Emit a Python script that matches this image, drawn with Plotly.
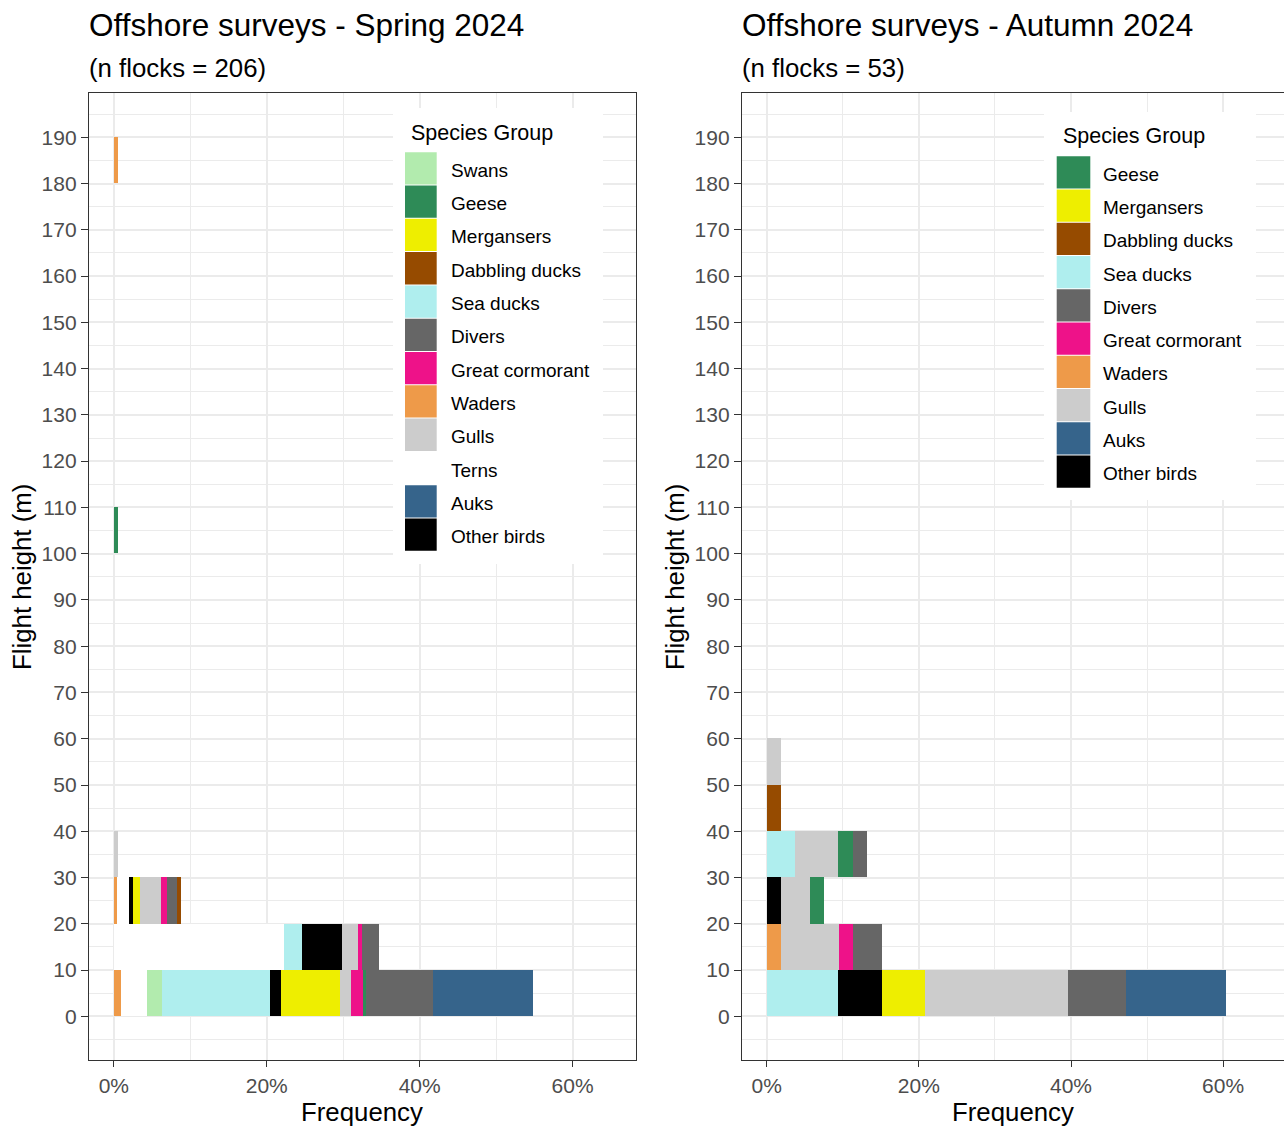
import plotly.graph_objects as go

# figure size (pixels)
W, H = 1284, 1128
FONT = "Liberation Sans, Arial, sans-serif"

# bottoms of the 10 m flight height bins that hold data
height_bins = [0, 10, 20, 30, 40, 50, 100, 180]

# stacking order, left to right
stack_order = ['Waders', 'Terns', 'Swans', 'Sea ducks', 'Other birds', 'Mergansers', 'Gulls',
               'Great cormorant', 'Geese', 'Divers', 'Dabbling ducks', 'Auks']

species_colours = {
    'Swans': '#B2EBAE', 'Geese': '#2E8B57', 'Mergansers': '#EEEE00', 'Dabbling ducks': '#964B00',
    'Sea ducks': '#AFEEEE', 'Divers': '#666666', 'Great cormorant': '#EE1289', 'Waders': '#EE9A49',
    'Gulls': '#CCCCCC', 'Terns': '#FFFFFF', 'Auks': '#36648B', 'Other birds': '#000000',
}

spring_legend = ['Swans', 'Geese', 'Mergansers', 'Dabbling ducks', 'Sea ducks', 'Divers',
                 'Great cormorant', 'Waders', 'Gulls', 'Terns', 'Auks', 'Other birds']
autumn_legend = ['Geese', 'Mergansers', 'Dabbling ducks', 'Sea ducks', 'Divers',
                 'Great cormorant', 'Waders', 'Gulls', 'Auks', 'Other birds']

# frequency (%) per height bin
spring_freq = {
    'Waders':          [0.97, 0.00, 0.45, 0.00, 0, 0, 0.00, 0.49],
    'Terns':           [3.40, 22.30, 1.55, 0.00, 0, 0, 0.00, 0.00],
    'Swans':           [1.94, 0.00, 0.00, 0.00, 0, 0, 0.00, 0.00],
    'Sea ducks':       [14.08, 2.31, 0.00, 0.00, 0, 0, 0.00, 0.00],
    'Other birds':     [1.46, 5.28, 0.53, 0.00, 0, 0, 0.00, 0.00],
    'Mergansers':      [7.77, 0.00, 0.92, 0.00, 0, 0, 0.00, 0.00],
    'Gulls':           [1.46, 2.09, 2.75, 0.49, 0, 0, 0.00, 0.00],
    'Great cormorant': [1.46, 0.52, 0.69, 0.00, 0, 0, 0.00, 0.00],
    'Geese':           [0.49, 0.00, 0.00, 0.00, 0, 0, 0.49, 0.00],
    'Divers':          [8.74, 2.23, 1.36, 0.00, 0, 0, 0.00, 0.00],
    'Dabbling ducks':  [0.00, 0.00, 0.48, 0.00, 0, 0, 0.00, 0.00],
    'Auks':            [13.11, 0.00, 0.00, 0.00, 0, 0, 0.00, 0.00],
}
autumn_freq = {
    'Waders':          [0.00, 1.89, 0.00, 0.00, 0.00, 0.00, 0, 0],
    'Sea ducks':       [9.43, 0.00, 0.00, 3.77, 0.00, 0.00, 0, 0],
    'Other birds':     [5.66, 0.00, 1.89, 0.00, 0.00, 0.00, 0, 0],
    'Mergansers':      [5.66, 0.00, 0.00, 0.00, 0.00, 0.00, 0, 0],
    'Gulls':           [18.87, 7.55, 3.77, 5.66, 0.00, 1.89, 0, 0],
    'Great cormorant': [0.00, 1.89, 0.00, 0.00, 0.00, 0.00, 0, 0],
    'Geese':           [0.00, 0.00, 1.89, 1.89, 0.00, 0.00, 0, 0],
    'Divers':          [7.55, 3.77, 0.00, 1.89, 0.00, 0.00, 0, 0],
    'Dabbling ducks':  [0.00, 0.00, 0.00, 0.00, 1.89, 0.00, 0, 0],
    'Auks':            [13.21, 0.00, 0.00, 0.00, 0.00, 0.00, 0, 0],
}

spring_title = 'Offshore surveys - Spring 2024'
autumn_title = 'Offshore surveys - Autumn 2024'
spring_sub = '(n flocks = 206)'
autumn_sub = '(n flocks = 53)'

x_ticks = [0, 20, 40, 60]
x_labels = ['0%', '20%', '40%', '60%']
y_ticks = list(range(0, 200, 10))


def px(x):
    return x / W


def py(y):
    return 1 - y / H


fig = go.Figure()

# bars
for freq, xa, ya in [(spring_freq, 'x', 'y'), (autumn_freq, 'x2', 'y2')]:
    for sp in stack_order:
        if sp not in freq:
            continue
        fig.add_trace(go.Bar(
            y=height_bins, x=freq[sp], orientation='h', width=10, offset=0,
            marker=dict(color=species_colours[sp], line=dict(width=0)),
            name=sp, showlegend=False, xaxis=xa, yaxis=ya))


def x_axis(domain, rng, mirror):
    return dict(domain=domain, range=rng, tickvals=x_ticks, ticktext=x_labels,
                showgrid=True, gridcolor='#EBEBEB', gridwidth=1.6, zeroline=False,
                minor=dict(dtick=10, tick0=0, showgrid=True, gridcolor='#EBEBEB', gridwidth=1),
                showline=True, linecolor='#333333', linewidth=1.3, mirror=mirror,
                ticks='outside', ticklen=6, tickwidth=1.3, tickcolor='#333333',
                tickfont=dict(size=21, color='#4D4D4D', family=FONT), fixedrange=True)


def y_axis(domain, anchor, mirror):
    return dict(domain=domain, range=[-9.5, 199.5], anchor=anchor, tickvals=y_ticks,
                showgrid=True, gridcolor='#EBEBEB', gridwidth=1.6, zeroline=False,
                minor=dict(dtick=5, tick0=0, showgrid=True, gridcolor='#EBEBEB', gridwidth=1),
                showline=True, linecolor='#333333', linewidth=1.3, mirror=mirror,
                ticks='outside', ticklen=7, tickwidth=1.3, tickcolor='#333333',
                tickfont=dict(size=21, color='#4D4D4D', family=FONT), fixedrange=True)


ydom = [py(1060.3), py(93.3)]
fig.update_layout(
    width=W, height=H, margin=dict(l=0, r=0, t=0, b=0),
    paper_bgcolor='white', plot_bgcolor='white',
    barmode='stack', bargap=0,
    font=dict(family=FONT, color='black'),
    xaxis=x_axis([px(89), px(635.7)], [-3.25, 68.25], True),
    yaxis=y_axis(ydom, 'x', True),
    xaxis2=x_axis([px(742), 1], [-3.25, 68.0], True),
    yaxis2=y_axis(ydom, 'x2', False),
)

shapes = []
annotations = []


def text(x, y, s, size, xanchor='left', angle=0, colour='black'):
    annotations.append(dict(x=px(x), y=py(y), xref='paper', yref='paper', text=s, showarrow=False,
                            xanchor=xanchor, yanchor='middle', textangle=angle,
                            font=dict(size=size, color=colour, family=FONT)))


def rect(x0, y0, x1, y1, colour):
    shapes.append(dict(type='rect', xref='paper', yref='paper', x0=px(x0), x1=px(x1),
                       y0=py(y1), y1=py(y0), fillcolor=colour, line=dict(width=0), layer='above'))


# titles and axis titles
for left, mid, title, sub in [(89, 362, spring_title, spring_sub), (742, 1013, autumn_title, autumn_sub)]:
    text(left - 2, 25, title, 31.5)
    text(left - 2, 68, sub, 25.8)
    text(mid, 1112, 'Frequency', 25.8, xanchor='center')
    text(left - 67, 577, 'Flight height (m)', 25.8, xanchor='center', angle=-90)


# legends drawn inside each panel
def legend(items, box, title_xy, key_x, key_top, key_h, key_w, label_x):
    rect(*box, 'white')
    text(title_xy[0] - 2, title_xy[1], 'Species Group', 21.5)
    for i, sp in enumerate(items):
        top = key_top + i * key_h
        rect(key_x, top + 0.5, key_x + key_w, top + key_h - 0.5, species_colours[sp])
        text(label_x - 2, top + key_h / 2 + 2, sp, 19)


legend(spring_legend, (393, 108, 603, 564), (411, 133), 405, 151.7, 33.3, 31.7, 451)
legend(autumn_legend, (1044, 112, 1256, 500), (1062.7, 136), 1056.7, 155.7, 33.26, 33.6, 1102.7)

fig.update_layout(shapes=shapes, annotations=annotations)

fig.write_html("out.html", config={'displayModeBar': False},
               post_script="document.body.style.margin='0px';")
